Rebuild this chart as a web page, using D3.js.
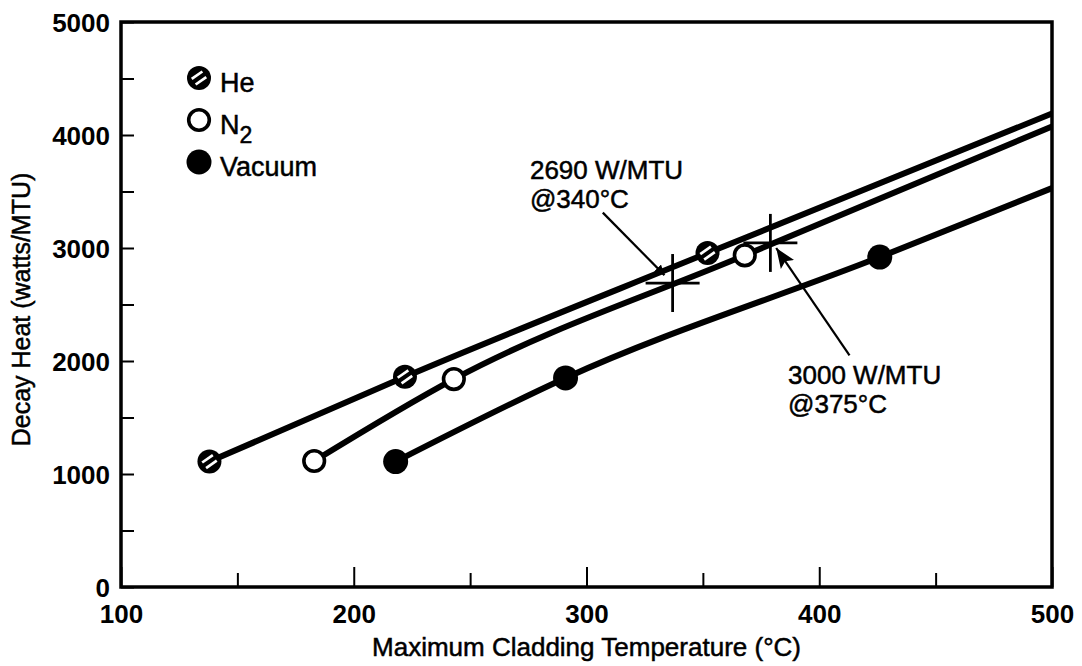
<!DOCTYPE html>
<html><head><meta charset="utf-8">
<script src="https://cdn.jsdelivr.net/npm/d3@7"></script>
<style>
body{margin:0;background:#fff;}
text{font-family:"Liberation Sans",Arial,Helvetica,sans-serif;fill:#000;}
</style></head>
<body><svg id="c" width="1082" height="666"></svg>
<script>
// ---- data ----
const xTicks = [100, 200, 300, 400, 500];
const xMinor = [150, 250, 350, 450];
const yTicks = [0, 1000, 2000, 3000, 4000, 5000];
const yMinor = [500, 1500, 2500, 3500, 4500];

const heTemp = [138, 222, 352];
const heHeat = [1110, 1860, 2955];
const heLineEnd = [500, 4190];

const n2Temp = [183, 243, 368];
const n2Heat = [1115, 1840, 2935];
const n2LineEnd = [500, 4075];

const vacTemp = [218, 291, 426];
const vacHeat = [1110, 1850, 2920];
const vacLineEnd = [500, 3530];

const crossTemp = [337, 379];
const crossHeat = [2690, 3045];

const noteLines1 = ["2690 W/MTU", "@340°C"];
const noteLines2 = ["3000 W/MTU", "@375°C"];
const noteAnchor1 = [275.7, 3613];
const noteAnchor2 = [386.6, 1793];
const arrow1 = [[307, 3313], [333.5, 2760]];
const arrow2 = [[413, 2049], [381.5, 3000]];

const legendNames = ["He", "N2", "Vacuum"];

// ---- layout ----
const svg = d3.select("#c");
const L = 121, R = 1052, T = 22, B = 587;
const x = d3.scaleLinear().domain([100, 500]).range([L, R]);
const y = d3.scaleLinear().domain([0, 5000]).range([B, T]);

const defs = svg.append("defs");
defs.append("marker").attr("id","ah").attr("viewBox","0 0 10 10")
  .attr("refX",10).attr("refY",5).attr("markerWidth",10).attr("markerHeight",10)
  .attr("markerUnits","userSpaceOnUse").attr("orient","auto")
  .append("path").attr("d","M0,0 L10,5 L0,10 Z").attr("fill","#000");
defs.append("marker").attr("id","ah2").attr("viewBox","0 0 10 10")
  .attr("refX",10).attr("refY",5).attr("markerWidth",20).attr("markerHeight",20)
  .attr("markerUnits","userSpaceOnUse").attr("orient","auto")
  .append("path").attr("d","M0,1 L10,5 L0,9 L2,5 Z").attr("fill","#000");

const bigText = s => s.style("stroke","#000").style("stroke-width","0.5px");

// axes ticks (inward)
const xAxis = d3.axisBottom(x).tickValues(xTicks).tickSize(-20).tickFormat(d3.format("d"));
const gx = svg.append("g").attr("transform",`translate(0,${B})`).call(xAxis);
gx.select(".domain").remove();
gx.selectAll(".tick line").attr("stroke","#000").attr("stroke-width",2);
gx.selectAll(".tick text").attr("y",18).attr("dy","0.71em")
  .style("font-size","26px").style("font-weight","bold");
const gxm = svg.append("g").attr("transform",`translate(0,${B})`)
  .call(d3.axisBottom(x).tickValues(xMinor).tickSize(-14).tickFormat(""));
gxm.select(".domain").remove();
gxm.selectAll(".tick line").attr("stroke","#000").attr("stroke-width",2);

const yAxis = d3.axisLeft(y).tickValues(yTicks).tickSize(-13).tickFormat(d3.format("d"));
const gy = svg.append("g").attr("transform",`translate(${L},0)`).call(yAxis);
gy.select(".domain").remove();
gy.selectAll(".tick line").attr("stroke","#000").attr("stroke-width",2);
gy.selectAll(".tick text").attr("x",-11).attr("dy","0.36em")
  .style("font-size","26px").style("font-weight","bold");
const gym = svg.append("g").attr("transform",`translate(${L},0)`)
  .call(d3.axisLeft(y).tickValues(yMinor).tickSize(-13).tickFormat(""));
gym.select(".domain").remove();
gym.selectAll(".tick line").attr("stroke","#000").attr("stroke-width",2);

// frame
svg.append("rect").attr("x",L).attr("y",T).attr("width",R-L).attr("height",B-T)
  .attr("fill","none").attr("stroke","#000").attr("stroke-width",3.5);

// titles
svg.append("text").attr("x",(L+R)/2).attr("y",656).attr("text-anchor","middle")
  .style("font-size","26px").call(bigText)
  .text("Maximum Cladding Temperature (°C)");
svg.append("text").attr("transform",`translate(30,${(T+B)/2+5}) rotate(-90)`)
  .attr("text-anchor","middle")
  .style("font-size","25px").call(bigText)
  .text("Decay Heat (watts/MTU)");

// lines
const line = d3.line().x(d=>x(d[0])).y(d=>y(d[1])).curve(d3.curveMonotoneX);
const series = [
  {t:heTemp, h:heHeat, end:heLineEnd, kind:"he"},
  {t:n2Temp, h:n2Heat, end:n2LineEnd, kind:"n2"},
  {t:vacTemp, h:vacHeat, end:vacLineEnd, kind:"vac"}
];
series.forEach(s=>{
  const pts = s.t.map((t,i)=>[t,s.h[i]]).concat([s.end]);
  svg.append("path").datum(pts).attr("d",line).attr("fill","none")
    .attr("stroke","#000").attr("stroke-width",6);
});

// markers
function drawMarker(g, cx, cy, kind){
  if(kind==="he"){
    g.append("circle").attr("cx",cx).attr("cy",cy).attr("r",12).attr("fill","#000");
    const a = -35*Math.PI/180, ux=Math.cos(a), uy=Math.sin(a), nx=-uy, ny=ux;
    [-3.4, 3.4].forEach(o=>{
      const px=cx+nx*o, py=cy+ny*o, hl=6.5;
      g.append("line").attr("x1",px-ux*hl).attr("y1",py-uy*hl)
        .attr("x2",px+ux*hl).attr("y2",py+uy*hl)
        .attr("stroke","#fff").attr("stroke-width",2.7);
    });
  } else if(kind==="n2"){
    g.append("circle").attr("cx",cx).attr("cy",cy).attr("r",10.3).attr("fill","#fff")
      .attr("stroke","#000").attr("stroke-width",3.6);
  } else {
    g.append("circle").attr("cx",cx).attr("cy",cy).attr("r",12.5).attr("fill","#000");
  }
}
const mg = svg.append("g");
series.forEach(s=>{
  s.t.forEach((t,i)=>drawMarker(mg, x(t), y(s.h[i]), s.kind));
});

// crosshairs
crossTemp.forEach((t,i)=>{
  const cx=x(t), cy=y(crossHeat[i]);
  svg.append("line").attr("x1",cx-27).attr("x2",cx+27).attr("y1",cy).attr("y2",cy)
    .attr("stroke","#000").attr("stroke-width",2.8);
  svg.append("line").attr("x1",cx).attr("x2",cx).attr("y1",cy-29).attr("y2",cy+29)
    .attr("stroke","#000").attr("stroke-width",2.8);
});

// arrows
svg.append("line").attr("x1",x(arrow1[0][0])).attr("y1",y(arrow1[0][1]))
  .attr("x2",x(arrow1[1][0])).attr("y2",y(arrow1[1][1]))
  .attr("stroke","#000").attr("stroke-width",2.2).attr("marker-end","url(#ah)");
svg.append("line").attr("x1",x(arrow2[0][0])).attr("y1",y(arrow2[0][1]))
  .attr("x2",x(arrow2[1][0])).attr("y2",y(arrow2[1][1]))
  .attr("stroke","#000").attr("stroke-width",2.2).attr("marker-end","url(#ah2)");

// notes
function note(lines, anchor){
  lines.forEach((s,i)=>{
    svg.append("text").attr("x",x(anchor[0])).attr("y",y(anchor[1])+i*29)
      .style("font-size","26px").call(bigText)
      .text(s);
  });
}
note(noteLines1, noteAnchor1);
note(noteLines2, noteAnchor2);

// legend
const kinds = ["he","n2","vac"];
legendNames.forEach((n,i)=>{
  const cy = 78 + i*42;
  drawMarker(svg, 199, cy, kinds[i]);
  const t = svg.append("text").attr("x",220).attr("y",cy+14)
    .style("font-size","27px").call(bigText);
  if(n==="N2"){
    t.append("tspan").text("N");
    t.append("tspan").attr("dy",9).style("font-size","23px").text("2");
  } else t.text(n);
});
</script></body></html>
